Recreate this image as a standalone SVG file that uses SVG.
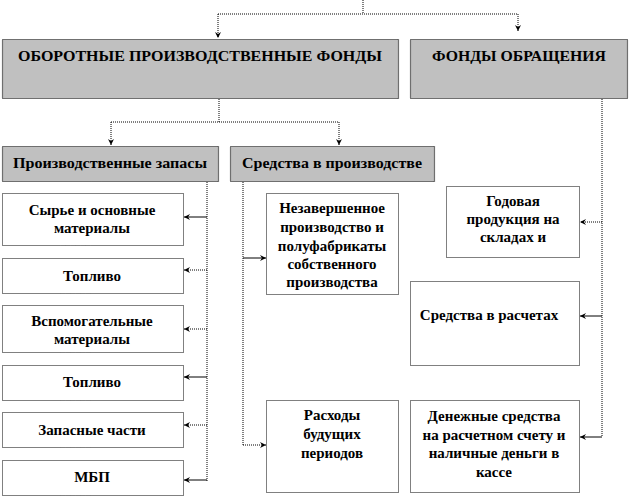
<svg xmlns="http://www.w3.org/2000/svg" width="630" height="499" viewBox="0 0 630 499">
<style>
.box{fill:#fff;stroke:#000;stroke-width:1;stroke-dasharray:1 1}
.hdr{fill:#c0c0c0;stroke:#000;stroke-width:1.2;stroke-dasharray:1 1}
.dot{fill:none;stroke:#000;stroke-width:1;stroke-dasharray:1 1}
.sol{fill:none;stroke:#000;stroke-width:1}
</style>
<defs>
<marker id="ar" markerWidth="8" markerHeight="8" refX="6" refY="4" orient="auto" markerUnits="userSpaceOnUse">
<path d="M0,1 L6,4 L0,7 L2,4 Z" fill="#000"/>
</marker>
</defs>
<g id="connectors">
<line class="dot" x1="363" y1="0" x2="363" y2="14"/>
<polyline class="dot" points="218,14 518,14 518,31" marker-end="url(#ar)"/>
<line class="dot" x1="218" y1="14" x2="218" y2="38" marker-end="url(#ar)"/>
<line class="dot" x1="219" y1="99" x2="219" y2="122"/>
<polyline class="dot" points="111,122 339,122"/>
<line class="dot" x1="111" y1="122" x2="111" y2="145" marker-end="url(#ar)"/>
<line class="dot" x1="339" y1="122" x2="339" y2="145" marker-end="url(#ar)"/>
<line class="dot" x1="207" y1="182" x2="207" y2="481"/>
<line class="sol" x1="207" y1="217" x2="184" y2="217" marker-end="url(#ar)"/>
<line class="dot" x1="207" y1="270" x2="184" y2="270" marker-end="url(#ar)"/>
<line class="dot" x1="207" y1="329" x2="184" y2="329" marker-end="url(#ar)"/>
<line class="sol" x1="207" y1="377" x2="184" y2="377" marker-end="url(#ar)"/>
<line class="dot" x1="207" y1="425" x2="184" y2="425" marker-end="url(#ar)"/>
<line class="sol" x1="207" y1="480" x2="184" y2="480" marker-end="url(#ar)"/>
<line class="dot" x1="243" y1="182" x2="243" y2="445"/>
<line class="sol" x1="243" y1="258" x2="266" y2="258" marker-end="url(#ar)"/>
<line class="dot" x1="243" y1="445" x2="266" y2="445" marker-end="url(#ar)"/>
<line class="dot" x1="602" y1="99" x2="602" y2="437"/>
<line class="dot" x1="602" y1="222" x2="580" y2="222" marker-end="url(#ar)"/>
<line class="sol" x1="602" y1="316" x2="580" y2="316" marker-end="url(#ar)"/>
<line class="sol" x1="602" y1="437" x2="580" y2="437" marker-end="url(#ar)"/>
</g>
<g id="n-oborotnye">
<rect class="hdr" x="2.5" y="39.5" width="396" height="59"/>
<text x="200" y="61" font-family="Liberation Serif" font-weight="bold" font-size="15.5" text-anchor="middle" textLength="364" lengthAdjust="spacingAndGlyphs">ОБОРОТНЫЕ  ПРОИЗВОДСТВЕННЫЕ  ФОНДЫ</text>
</g>
<g id="n-obrashcheniya">
<rect class="hdr" x="410.5" y="39.5" width="217" height="59"/>
<text x="519" y="61" font-family="Liberation Serif" font-weight="bold" font-size="15.5" text-anchor="middle" textLength="174" lengthAdjust="spacingAndGlyphs">ФОНДЫ ОБРАЩЕНИЯ</text>
</g>
<g id="n-zapasy">
<rect class="hdr" x="2.5" y="146.5" width="216" height="35"/>
<text x="110" y="168" font-family="Liberation Serif" font-weight="bold" font-size="15" text-anchor="middle" textLength="194" lengthAdjust="spacingAndGlyphs">Производственные запасы</text>
</g>
<g id="n-sredstva-proizv">
<rect class="hdr" x="230.5" y="146.5" width="204" height="35"/>
<text x="332" y="168" font-family="Liberation Serif" font-weight="bold" font-size="15" text-anchor="middle" textLength="180" lengthAdjust="spacingAndGlyphs">Средства в производстве</text>
</g>
<g id="n-syrye">
<rect class="box" x="2.5" y="193.5" width="181" height="52"/>
<text x="92" y="215" font-family="Liberation Serif" font-weight="bold" font-size="15" text-anchor="middle">Сырье и основные</text>
<text x="92" y="233" font-family="Liberation Serif" font-weight="bold" font-size="15" text-anchor="middle">материалы</text>
</g>
<g id="n-toplivo1">
<rect class="box" x="2.5" y="258.5" width="181" height="35"/>
<text x="92" y="281" font-family="Liberation Serif" font-weight="bold" font-size="15" text-anchor="middle">Топливо</text>
</g>
<g id="n-vspom">
<rect class="box" x="2.5" y="305.5" width="181" height="47"/>
<text x="92" y="326" font-family="Liberation Serif" font-weight="bold" font-size="15" text-anchor="middle">Вспомогательные</text>
<text x="92" y="344" font-family="Liberation Serif" font-weight="bold" font-size="15" text-anchor="middle">материалы</text>
</g>
<g id="n-toplivo2">
<rect class="box" x="2.5" y="365.5" width="181" height="35"/>
<text x="92" y="387" font-family="Liberation Serif" font-weight="bold" font-size="15" text-anchor="middle">Топливо</text>
</g>
<g id="n-zapchasti">
<rect class="box" x="2.5" y="412.5" width="181" height="35"/>
<text x="92" y="435" font-family="Liberation Serif" font-weight="bold" font-size="15" text-anchor="middle">Запасные части</text>
</g>
<g id="n-mbp">
<rect class="box" x="2.5" y="460.5" width="181" height="35"/>
<text x="92" y="482" font-family="Liberation Serif" font-weight="bold" font-size="15" text-anchor="middle">МБП</text>
</g>
<g id="n-nezavershennoe">
<rect class="box" x="266.5" y="193.5" width="132" height="101"/>
<text x="332" y="213" font-family="Liberation Serif" font-weight="bold" font-size="15" text-anchor="middle">Незавершенное</text>
<text x="332" y="232" font-family="Liberation Serif" font-weight="bold" font-size="15" text-anchor="middle">производство и</text>
<text x="332" y="251" font-family="Liberation Serif" font-weight="bold" font-size="15" text-anchor="middle">полуфабрикаты</text>
<text x="332" y="269" font-family="Liberation Serif" font-weight="bold" font-size="15" text-anchor="middle">собственного</text>
<text x="332" y="287" font-family="Liberation Serif" font-weight="bold" font-size="15" text-anchor="middle">производства</text>
</g>
<g id="n-raskhody">
<rect class="box" x="266.5" y="400.5" width="132" height="92"/>
<text x="332" y="420" font-family="Liberation Serif" font-weight="bold" font-size="15" text-anchor="middle">Расходы</text>
<text x="332" y="439" font-family="Liberation Serif" font-weight="bold" font-size="15" text-anchor="middle">будущих</text>
<text x="332" y="458" font-family="Liberation Serif" font-weight="bold" font-size="15" text-anchor="middle">периодов</text>
</g>
<g id="n-godovaya">
<rect class="box" x="446.5" y="186.5" width="133" height="71"/>
<text x="513" y="206" font-family="Liberation Serif" font-weight="bold" font-size="15" text-anchor="middle">Годовая</text>
<text x="513" y="224" font-family="Liberation Serif" font-weight="bold" font-size="15" text-anchor="middle">продукция на</text>
<text x="513" y="242" font-family="Liberation Serif" font-weight="bold" font-size="15" text-anchor="middle">складах и</text>
</g>
<g id="n-raschety">
<rect class="box" x="410.5" y="281.5" width="169" height="84"/>
<text x="489" y="320" font-family="Liberation Serif" font-weight="bold" font-size="15" text-anchor="middle">Средства в расчетах</text>
</g>
<g id="n-denezhnye">
<rect class="box" x="410.5" y="400.5" width="169" height="92"/>
<text x="494" y="421" font-family="Liberation Serif" font-weight="bold" font-size="15" text-anchor="middle">Денежные средства</text>
<text x="494" y="440" font-family="Liberation Serif" font-weight="bold" font-size="15" text-anchor="middle">на расчетном счету и</text>
<text x="494" y="458" font-family="Liberation Serif" font-weight="bold" font-size="15" text-anchor="middle">наличные деньги в</text>
<text x="494" y="477" font-family="Liberation Serif" font-weight="bold" font-size="15" text-anchor="middle">кассе</text>
</g>
</svg>
